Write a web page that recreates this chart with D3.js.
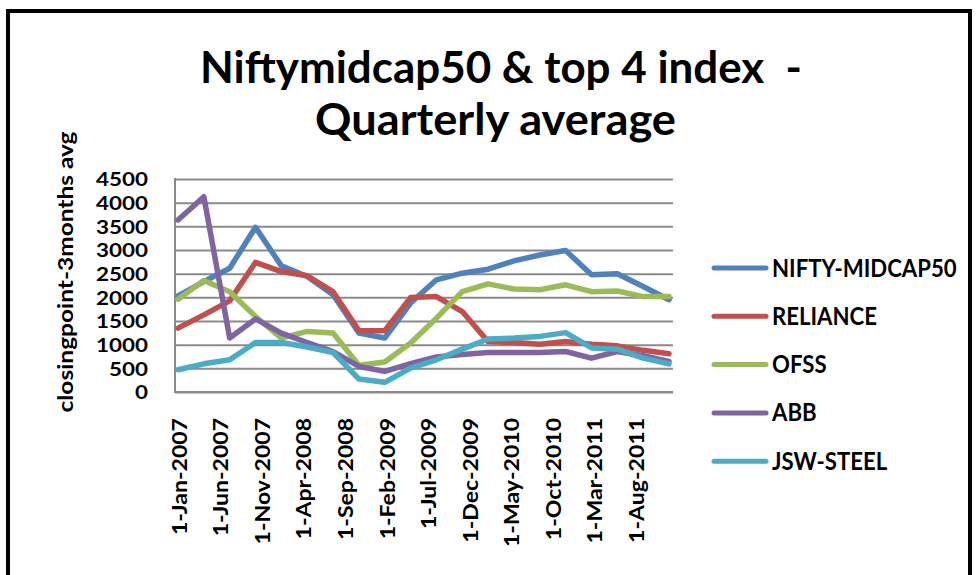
<!DOCTYPE html>
<html lang="en">
<head>
<meta charset="utf-8">
<title>Niftymidcap50 & top 4 index - Quarterly average</title>
<script src="https://cdn.jsdelivr.net/npm/d3@7"></script>
<style>
  body { margin: 0; background: #fff; }
  svg text { font-family: Lato, "Open Sans", sans-serif; font-weight: bold; fill: #000; }
  .grid line { stroke: #8a8a8a; stroke-width: 2; }
  .grid path { display: none; }
</style>
</head>
<body>
<script>
// quarterly averages, one point per quarter
var quarters = ["Q1-2007","Q2-2007","Q3-2007","Q4-2007",
                "Q1-2008","Q2-2008","Q3-2008","Q4-2008",
                "Q1-2009","Q2-2009","Q3-2009","Q4-2009",
                "Q1-2010","Q2-2010","Q3-2010","Q4-2010",
                "Q1-2011","Q2-2011","Q3-2011","Q4-2011"];

var nifty    = [2030, 2330, 2615, 3480, 2665, 2440, 2055, 1245, 1140, 1880, 2370, 2510, 2595, 2770, 2895, 2990, 2475, 2500, 2230, 1950];
var reliance = [1350, 1630, 1925, 2740, 2545, 2455, 2120, 1300, 1295, 1995, 2015, 1700, 1065, 1045, 1010, 1065, 1010, 975, 880, 810];
var ofss     = [1960, 2355, 2120, 1595, 1140, 1280, 1245, 565, 635, 1035, 1560, 2120, 2285, 2175, 2160, 2265, 2120, 2135, 2015, 2015];
var abb      = [3635, 4125, 1140, 1545, 1245, 1045, 855, 540, 435, 600, 740, 790, 835, 835, 835, 855, 715, 855, 765, 645];
var jsw      = [470, 595, 680, 1045, 1045, 950, 835, 275, 205, 505, 680, 905, 1120, 1140, 1175, 1255, 930, 905, 715, 595];

var seriesNames = ["NIFTY-MIDCAP50", "RELIANCE", "OFSS", "ABB", "JSW-STEEL"];
var colors = ["#4F81BD", "#C0504D", "#9BBB59", "#8064A2", "#4BACC6"];

var xTickLabels = ["1-Jan-2007","1-Jun-2007","1-Nov-2007","1-Apr-2008","1-Sep-2008","1-Feb-2009",
                   "1-Jul-2009","1-Dec-2009","1-May-2010","1-Oct-2010","1-Mar-2011","1-Aug-2011"];
var axisStart = "1-Jan-2007", axisEnd = "1-Dec-2011";
var yTicks = [0, 500, 1000, 1500, 2000, 2500, 3000, 3500, 4000, 4500];

var W = 977, H = 575;
var plot = {left: 175, right: 673, top: 179, bottom: 392};
var firstX = 178, lastX = 669;

var svg = d3.select("body").append("svg")
  .attr("width", W)
  .attr("height", H);

// chart frame
svg.append("rect")
  .attr("x", 8).attr("y", 11)
  .attr("width", 962).attr("height", 620)
  .attr("fill", "#fff")
  .attr("stroke", "#000")
  .attr("stroke-width", 4);

// stretch every text of a selection by the same factor
function stretch(sel, factor) {
  sel.each(function() {
    var len = this.getComputedTextLength();
    d3.select(this).attr("textLength", len * factor).attr("lengthAdjust", "spacingAndGlyphs");
  });
}

// title
svg.append("text").attr("x", 200).attr("y", 83)
  .style("font-size", "44px").style("white-space", "pre")
  .attr("textLength", 602).attr("lengthAdjust", "spacingAndGlyphs")
  .text("Niftymidcap50 & top 4 index  -");
svg.append("text").attr("x", 315).attr("y", 135)
  .style("font-size", "44px")
  .attr("textLength", 361).attr("lengthAdjust", "spacingAndGlyphs")
  .text("Quarterly average");

// scales
var parseDay = d3.timeParse("%d-%b-%Y");
var x = d3.scalePoint().domain(quarters).range([firstX, lastX]);
var xTime = d3.scaleTime().domain([parseDay(axisStart), parseDay(axisEnd)]).range([firstX, lastX]);
var y = d3.scaleLinear().domain([0, 4500]).range([plot.bottom, plot.top]);

// gridlines
svg.append("g")
  .attr("class", "grid")
  .attr("transform", "translate(" + plot.left + ",0)")
  .call(d3.axisLeft(y).tickValues(yTicks).tickSize(-(plot.right - plot.left)).tickFormat(""));

// vertical axis line
svg.append("line")
  .attr("x1", plot.left).attr("x2", plot.left)
  .attr("y1", plot.top - 1).attr("y2", plot.bottom + 1)
  .attr("stroke", "#8a8a8a").attr("stroke-width", 2);

// y tick labels
var yAx = svg.append("g")
  .attr("transform", "translate(" + plot.left + ",0)")
  .call(d3.axisLeft(y).tickValues(yTicks).tickSize(0).tickPadding(27).tickFormat(d3.format("d")));
yAx.select(".domain").remove();
yAx.selectAll("text")
  .attr("dy", "0.36em")
  .style("font-size", "18.5px")
  .style("font-family", "Lato, sans-serif");
var yFactor = 52 / yAx.selectAll("text").filter(function(d) { return d === 4500; }).node().getComputedTextLength();
stretch(yAx.selectAll("text"), yFactor);

// y axis title
svg.append("text")
  .attr("transform", "translate(73,272) rotate(-90)")
  .attr("text-anchor", "middle")
  .style("font-size", "20px")
  .attr("textLength", 281).attr("lengthAdjust", "spacingAndGlyphs")
  .text("closingpoint-3months avg");

// x tick labels (date axis)
var xAx = svg.append("g")
  .attr("transform", "translate(0," + plot.bottom + ")")
  .call(d3.axisBottom(xTime).tickValues(xTickLabels.map(parseDay)).tickSize(0)
        .tickFormat(d3.timeFormat("%-d-%b-%Y")));
xAx.select(".domain").remove();
xAx.selectAll("text")
  .attr("transform", "rotate(-90)")
  .attr("text-anchor", "end")
  .attr("x", -26)
  .attr("y", 8)
  .attr("dy", "0")
  .style("font-size", "21px")
  .style("font-family", "Lato, sans-serif");
var xFactor = 117 / xAx.select("text").node().getComputedTextLength();
stretch(xAx.selectAll("text"), xFactor);

// horizontal axis line
svg.append("line")
  .attr("x1", plot.left - 1).attr("x2", plot.right)
  .attr("y1", plot.bottom).attr("y2", plot.bottom)
  .attr("stroke", "#8a8a8a").attr("stroke-width", 2);

// series
var allSeries = [nifty, reliance, ofss, abb, jsw];
var line = d3.line()
  .x(function(d, i) { return x(quarters[i]); })
  .y(function(d) { return y(d); });

svg.append("g").selectAll("path")
  .data(allSeries)
  .enter().append("path")
  .attr("d", line)
  .attr("fill", "none")
  .attr("stroke", function(d, i) { return colors[i]; })
  .attr("stroke-width", 5.5)
  .attr("stroke-linejoin", "round")
  .attr("stroke-linecap", "round");

// legend
var legend = svg.append("g").selectAll("g")
  .data(seriesNames)
  .enter().append("g")
  .attr("transform", function(d, i) { return "translate(0," + (268 + i * 48.3) + ")"; });

legend.append("line")
  .attr("x1", 714).attr("x2", 766)
  .attr("y1", 0).attr("y2", 0)
  .attr("stroke", function(d, i) { return colors[i]; })
  .attr("stroke-width", 5)
  .attr("stroke-linecap", "round");

legend.append("text")
  .attr("x", 772)
  .attr("y", 8.5)
  .style("font-size", "24px")
  .text(function(d) { return d; });
var legFactor = 105 / legend.selectAll("text").filter(function(d) { return d === "RELIANCE"; }).node().getComputedTextLength();
stretch(legend.selectAll("text"), legFactor);
</script>
</body>
</html>
